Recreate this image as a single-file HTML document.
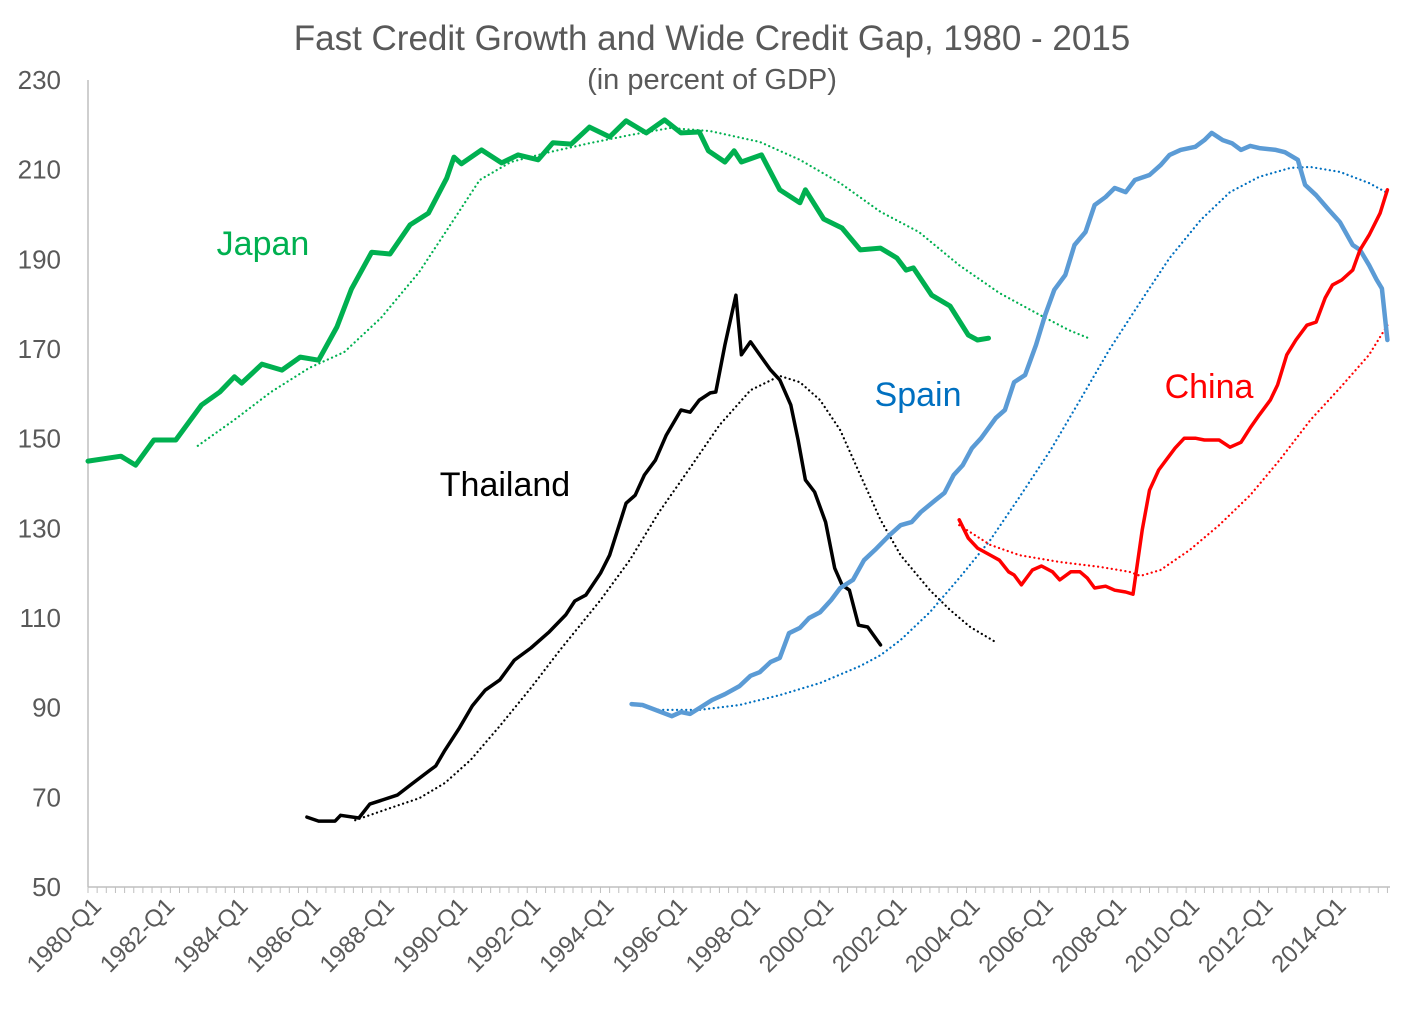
<!DOCTYPE html>
<html><head><meta charset="utf-8">
<style>
html,body{margin:0;padding:0;background:#fff;}
svg{display:block;font-family:"Liberation Sans",sans-serif;}
</style></head>
<body>
<svg id="chart" width="1422" height="1033" viewBox="0 0 1422 1033" xmlns="http://www.w3.org/2000/svg">
<text x="712" y="50" text-anchor="middle" font-size="35" fill="#595959">Fast Credit Growth and Wide Credit Gap, 1980 - 2015</text>
<text x="712" y="89" text-anchor="middle" font-size="29" fill="#595959">(in percent of GDP)</text>
<g id="axes"></g>
<g id="series"></g>
<text x="263" y="255" text-anchor="middle" font-size="34" fill="#00B050">Japan</text>
<text x="505" y="496" text-anchor="middle" font-size="34" fill="#000">Thailand</text>
<text x="918" y="406" text-anchor="middle" font-size="34" fill="#0070C0">Spain</text>
<text x="1209" y="398" text-anchor="middle" font-size="34" fill="#FF0000">China</text>
</svg>
<script>
const yTicks = [50,70,90,110,130,150,170,190,210,230];
const xTickYears = [1980,1982,1984,1986,1988,1990,1992,1994,1996,1998,2000,2002,2004,2006,2008,2010,2012,2014];
const japanYears = [1980.0,1980.9,1981.3,1981.8,1982.4,1983.1,1983.6,1984.0,1984.2,1984.75,1985.3,1985.8,1986.3,1986.8,1987.2,1987.75,1988.25,1988.8,1989.3,1989.8,1990.0,1990.2,1990.75,1991.3,1991.75,1992.3,1992.7,1993.2,1993.7,1994.25,1994.7,1995.25,1995.75,1996.2,1996.7,1996.95,1997.4,1997.65,1997.85,1998.4,1998.9,1999.45,1999.6,2000.1,2000.6,2001.1,2001.65,2002.1,2002.35,2002.55,2003.05,2003.55,2004.05,2004.3,2004.6];
const japanValues = [145.0,146.1,144.1,149.7,149.7,157.5,160.4,163.8,162.4,166.6,165.3,168.2,167.5,174.9,183.4,191.6,191.2,197.7,200.3,208.1,212.8,211.3,214.4,211.5,213.3,212.2,216.0,215.7,219.5,217.3,220.9,218.2,221.1,218.2,218.4,214.2,211.7,214.2,211.7,213.3,205.5,202.6,205.5,199.0,197.0,192.1,192.5,190.3,187.6,188.1,182.0,179.6,173.1,172.0,172.4];
const japanTrendYears = [1983.0,1984.0,1985.0,1986.05,1987.0,1988.0,1989.05,1989.9,1990.7,1991.55,1992.6,1993.7,1994.8,1995.9,1997.0,1998.35,1999.45,2000.55,2001.65,2002.7,2003.8,2004.9,2006.0,2006.8,2007.4];
const japanTrendValues = [148.4,154.2,160.4,165.8,169.3,176.9,187.2,197.7,207.7,211.7,213.9,215.9,217.7,219.3,218.6,216.2,212.2,207.0,200.6,196.1,188.7,182.5,177.6,174.2,172.2];
const thaiYears = [1985.98,1986.3,1986.75,1986.9,1987.4,1987.7,1988.45,1988.8,1989.35,1989.5,1989.75,1990.15,1990.5,1990.85,1991.25,1991.65,1992.1,1992.6,1993.05,1993.3,1993.6,1994.0,1994.25,1994.7,1994.95,1995.2,1995.5,1995.8,1996.2,1996.45,1996.7,1997.0,1997.15,1997.4,1997.7,1997.85,1998.1,1998.35,1998.65,1998.9,1999.2,1999.4,1999.6,1999.85,2000.15,2000.4,2000.6,2000.8,2001.05,2001.3,2001.65];
const thaiValues = [65.6,64.7,64.7,66.0,65.4,68.5,70.5,72.7,76.1,77.0,80.5,85.5,90.4,93.9,96.2,100.6,103.3,106.9,110.7,113.8,115.1,120.0,124.0,135.6,137.4,141.9,145.2,150.8,156.4,155.9,158.6,160.2,160.4,170.9,182.0,168.7,171.6,168.7,165.3,163.1,157.5,149.7,140.8,138.1,131.4,121.1,117.4,116.2,108.4,108.0,104.0];
const thaiTrendYears = [1987.3,1988.25,1989.05,1989.75,1990.45,1991.25,1992.1,1992.9,1994.0,1994.8,1995.6,1996.45,1997.25,1998.1,1998.9,1999.45,2000.0,2000.55,2001.1,2001.65,2002.2,2003.0,2003.55,2004.1,2004.8];
const thaiTrendValues = [64.9,67.6,69.8,73.2,78.3,85.9,94.4,102.9,114.0,122.9,133.6,143.5,153.0,160.8,164.0,162.6,158.6,151.9,141.9,131.9,124.0,116.2,111.8,108.0,104.6];
const spainYears = [1994.85,1995.15,1995.5,1995.95,1996.2,1996.45,1996.7,1997.05,1997.4,1997.8,1998.1,1998.35,1998.65,1998.9,1999.15,1999.45,1999.7,2000.0,2000.3,2000.55,2000.9,2001.2,2001.5,2001.9,2002.2,2002.5,2002.75,2003.15,2003.4,2003.65,2003.9,2004.15,2004.4,2004.8,2005.05,2005.3,2005.6,2005.9,2006.15,2006.4,2006.7,2006.95,2007.25,2007.5,2007.8,2008.05,2008.35,2008.6,2009.0,2009.3,2009.55,2009.85,2010.25,2010.5,2010.7,2011.0,2011.25,2011.5,2011.75,2012.0,2012.45,2012.7,2013.05,2013.25,2013.55,2013.9,2014.2,2014.55,2014.75,2015.0,2015.2,2015.35,2015.5];
const spainValues = [90.8,90.6,89.5,88.1,89.0,88.6,89.9,91.7,93.0,94.8,97.1,97.9,100.2,101.1,106.6,107.8,110.0,111.3,114.0,116.7,118.5,122.9,125.2,128.5,130.7,131.4,133.6,136.3,137.9,141.9,144.1,147.9,150.1,154.6,156.4,162.6,164.2,170.9,177.6,183.2,186.5,193.2,196.1,202.1,203.9,205.9,205.0,207.7,208.8,211.0,213.3,214.4,215.1,216.6,218.2,216.6,215.9,214.4,215.3,214.8,214.4,213.9,212.2,206.6,204.3,201.0,198.3,193.2,192.1,188.7,185.5,183.5,172.0];
const spainTrendYears = [1994.85,1995.6,1996.7,1997.8,1998.9,2000.0,2001.1,2001.65,2002.2,2003.0,2003.8,2004.65,2005.45,2006.3,2007.1,2007.9,2008.75,2009.55,2010.4,2011.2,2012.0,2012.85,2013.4,2014.2,2015.0,2015.5];
const spainTrendValues = [90.8,89.5,89.5,90.6,92.8,95.5,99.3,101.7,105.1,111.3,118.9,127.4,137.0,147.5,158.6,169.8,180.5,190.3,198.8,205.0,208.4,210.4,210.6,209.5,207.0,204.8];
const chinaYears = [2003.8,2004.05,2004.3,2004.7,2004.9,2005.15,2005.3,2005.5,2005.8,2006.05,2006.35,2006.55,2006.85,2007.1,2007.3,2007.5,2007.8,2008.05,2008.35,2008.55,2008.8,2009.0,2009.25,2009.45,2009.7,2009.95,2010.25,2010.5,2010.9,2011.2,2011.5,2011.75,2012.0,2012.3,2012.5,2012.75,2013.0,2013.3,2013.55,2013.8,2014.0,2014.25,2014.55,2014.75,2015.0,2015.3,2015.5];
const chinaValues = [131.9,127.8,125.6,123.8,122.9,120.3,119.6,117.4,120.7,121.6,120.3,118.5,120.3,120.3,118.9,116.7,117.1,116.2,115.8,115.3,129.6,138.5,143.0,145.2,147.9,150.1,150.1,149.7,149.7,148.1,149.2,152.4,155.3,158.6,162.0,168.7,172.0,175.3,176.0,181.4,184.3,185.4,187.6,192.1,195.4,200.3,205.5];
const chinaTrendYears = [2003.8,2004.65,2005.45,2006.55,2007.65,2008.45,2008.75,2009.3,2010.1,2010.9,2011.75,2012.55,2013.4,2014.2,2015.0,2015.5];
const chinaTrendValues = [130.7,126.3,124.0,122.5,121.4,120.3,119.4,120.7,125.2,130.7,137.4,145.2,154.2,161.3,168.7,175.3];

const NS = "http://www.w3.org/2000/svg";
const X0 = 88, X1 = 1390, Y0 = 887, Y1 = 80;
const yearMin = 1980, yearMax = 2015.57;
function xs(yr){ return X0 + (yr - yearMin) / (yearMax - yearMin) * (X1 - X0); }
function ys(v){ return Y0 - (v - 50) / 180 * (Y0 - Y1); }
function mk(tag, attrs, parent){ const e = document.createElementNS(NS, tag); for (const k in attrs) e.setAttribute(k, attrs[k]); parent.appendChild(e); return e; }

const axes = document.getElementById('axes');
const yAxis = mk('line', {x1:X0, y1:Y1, x2:X0, y2:Y0, stroke:'#BFBFBF', 'stroke-width':1.5}, axes);


const xAxis = mk('line', {x1:X0, y1:Y0, x2:X1, y2:Y0, stroke:'#BFBFBF', 'stroke-width':1.5}, axes);


yTicks.forEach(v => {
  const t = mk('text', {x:61, y:ys(v)+9, 'text-anchor':'end', 'font-size':26, fill:'#595959'}, axes);
  t.textContent = v;
  
  
});
for (let q = 0; q <= 143; q++) {
  const x = xs(yearMin + q / 4);
  if (x > X1 + 1) break;
  const tk = mk('line', {x1:x, y1:Y0, x2:x, y2:Y0+6, stroke:'#BFBFBF', 'stroke-width':1}, axes);
  
  
}
xTickYears.forEach(yr => {
  const x = xs(yr) + 2, y = Y0 + 8;
  const t = mk('text', {x:x, y:y, 'text-anchor':'end', 'font-size':24, fill:'#595959', transform:`rotate(-45 ${x} ${y})`, dy:'0.75em'}, axes);
  t.textContent = yr + '-Q1';
  
  
});

const seriesG = document.getElementById('series');
function drawLine(yrs, vals, color, width, dotted, name){
  const d = yrs.map((yr,i) => (i ? 'L' : 'M') + xs(yr).toFixed(1) + ',' + ys(vals[i]).toFixed(1)).join(' ');
  const attrs = {d:d, fill:'none', stroke:color, 'stroke-width':width, 'stroke-linejoin':'round', 'stroke-linecap':'round'};
  if (dotted) attrs['stroke-dasharray'] = '0.1 4.5';
  const p = mk('path', attrs, seriesG);
  
  
}
drawLine(japanTrendYears, japanTrendValues, '#00B050', 2.2, true, 'japan-trend-line');
drawLine(thaiTrendYears, thaiTrendValues, '#000000', 2.2, true, 'thailand-trend-line');
drawLine(spainTrendYears, spainTrendValues, '#0070C0', 2.2, true, 'spain-trend-line');
drawLine(chinaTrendYears, chinaTrendValues, '#FF0000', 2.2, true, 'china-trend-line');
drawLine(japanYears, japanValues, '#00B050', 5, false, 'japan-line');
drawLine(thaiYears, thaiValues, '#000000', 3.5, false, 'thailand-line');
drawLine(spainYears, spainValues, '#5B9BD5', 4.5, false, 'spain-line');
drawLine(chinaYears, chinaValues, '#FF0000', 3.5, false, 'china-line');
</script>
</body></html>
